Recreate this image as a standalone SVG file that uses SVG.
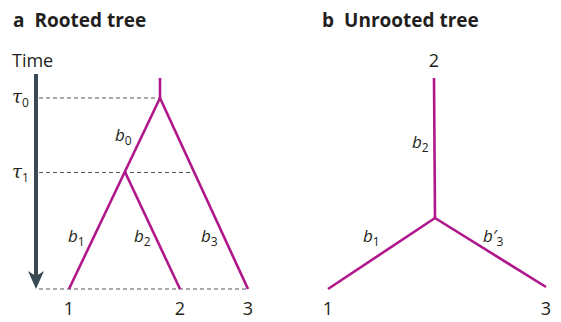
<svg xmlns="http://www.w3.org/2000/svg" width="561" height="322" viewBox="0 0 561 322">
<style>
text{font-family:"Open Sans","Noto Sans",sans-serif;fill:#231f20;font-size:18px}
.title{font-weight:bold;font-size:19px}
.it{font-style:italic;font-size:17px}
.tau{font-family:"DejaVu Serif","Liberation Serif",serif;font-style:italic;font-size:18px}
.sub{font-family:"Open Sans","Noto Sans",sans-serif;font-size:12px;font-style:normal}
.br{stroke:#b0178a;stroke-width:2.6;fill:none;stroke-linecap:butt}
.dash{stroke:#555;stroke-width:1;stroke-dasharray:4 3;fill:none}
</style>
<g id="panel-a-title"><text class="title" x="13" y="27">a<tspan dx="10">Rooted tree</tspan></text></g>
<g id="time-axis">
<text x="12" y="67">Time</text>
<line x1="36" y1="74" x2="36" y2="278" stroke="#3a4a54" stroke-width="4"/>
<path d="M28,271 L36,289 L44,271 L36,276 Z" fill="#3a4a54"/>
<text class="tau" x="12" y="103">τ<tspan class="sub" dy="4">0</tspan></text>
<text class="tau" x="12" y="178">τ<tspan class="sub" dy="4">1</tspan></text>
</g>
<g id="connectors">
<line class="dash" x1="39" y1="98" x2="160" y2="98"/>
<line class="dash" x1="39" y1="172.5" x2="194" y2="172.5"/>
<line class="dash" x1="39" y1="289" x2="248" y2="289"/>
<polyline class="br" points="160,78 160,98"/>
<line class="br" x1="160" y1="98" x2="69" y2="289"/>
<line class="br" x1="160" y1="98" x2="248" y2="289"/>
<line class="br" x1="125" y1="172" x2="180" y2="289"/>
<line class="br" x1="435" y1="218" x2="434" y2="78"/>
<line class="br" x1="435" y1="218" x2="328" y2="289"/>
<line class="br" x1="435" y1="218" x2="546" y2="287"/>
</g>
<g id="rooted-labels">
<text class="it" x="115" y="141">b<tspan class="sub" dy="4">0</tspan></text>
<text class="it" x="68" y="242">b<tspan class="sub" dy="4">1</tspan></text>
<text class="it" x="134" y="242">b<tspan class="sub" dy="4">2</tspan></text>
<text class="it" x="201" y="242">b<tspan class="sub" dy="4">3</tspan></text>
</g>
<g id="leaf-a1"><text x="69" y="315" text-anchor="middle">1</text></g>
<g id="leaf-a2"><text x="180" y="315" text-anchor="middle">2</text></g>
<g id="leaf-a3"><text x="248" y="315" text-anchor="middle">3</text></g>
<g id="panel-b-title"><text class="title" x="322" y="27">b<tspan dx="10">Unrooted tree</tspan></text></g>
<g id="unrooted-labels">
<text class="it" x="412" y="148">b<tspan class="sub" dy="4">2</tspan></text>
<text class="it" x="363" y="242">b<tspan class="sub" dy="4">1</tspan></text>
<text class="it" x="483" y="242">b′<tspan class="sub" dy="4">3</tspan></text>
</g>
<g id="leaf-b2"><text x="434" y="67" text-anchor="middle">2</text></g>
<g id="leaf-b1"><text x="328" y="315" text-anchor="middle">1</text></g>
<g id="leaf-b3"><text x="546" y="315" text-anchor="middle">3</text></g>
</svg>
